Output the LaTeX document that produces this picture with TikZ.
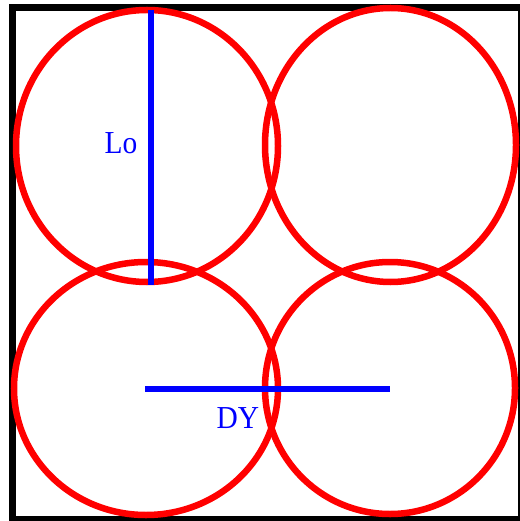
\documentclass[tikz,border=0pt]{standalone}
\usepackage{fontspec}
\setmainfont{Liberation Serif}
\begin{document}
\begin{tikzpicture}[x=1pt,y=-1pt,
  frame/.style={draw=black,line width=7pt},
  ring/.style={draw=red,line width=6.5pt},
  dim/.style={draw=blue,line width=6pt},
  lbl/.style={text=blue,font=\fontsize{32}{32}\selectfont,inner sep=0pt,xscale=0.92}]
\useasboundingbox (0,0) rectangle (519,521);
\fill[white] (0,0) rectangle (519,521);
\draw[frame] (12,8) rectangle (521,519);
\draw[ring] (147,146) ellipse [x radius=131, y radius=136];
\draw[ring] (390.5,145) ellipse [x radius=125.5, y radius=137];
\draw[ring] (146,388.5) ellipse [x radius=132, y radius=126.5];
\draw[ring] (390,388) ellipse [x radius=125, y radius=126];
\coordinate (lotop) at (151,10);
\coordinate (lobot) at (151,285);
\coordinate (dyl) at (145,389);
\coordinate (dyr) at (390,389);
\draw[dim] (lotop) -- (lobot);
\draw[dim] (dyl) -- (dyr);
\node[lbl] (lo) at (121,143) {Lo};
\node[lbl] (dy) at (238,418) {DY};
\end{tikzpicture}
\end{document}
